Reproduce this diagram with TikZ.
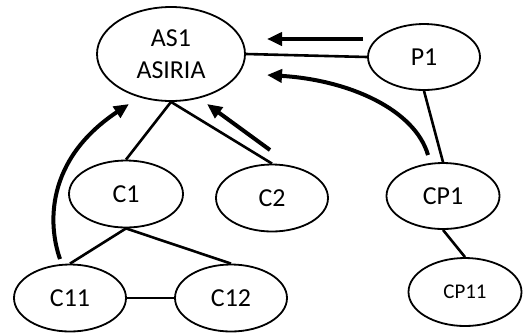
\documentclass[tikz,border=0pt]{standalone}
\usepackage{fontspec}
\setmainfont{Carlito}
\usetikzlibrary{shapes.geometric,arrows.meta}
\begin{document}
\begin{tikzpicture}[x=1bp,y=-1bp,
  ell/.style={draw,ellipse,line width=1.8bp,inner sep=0pt,font=\fontsize{26}{32}\selectfont,align=center},
  link/.style={line width=2.6bp},
  big/.style={line width=4bp,-{Triangle[length=15bp,width=13bp]}}]
\useasboundingbox (0,0) rectangle (529,333);
\node[ell,minimum width=148bp,minimum height=94bp] (as1) at (171,54) {AS1\\ASIRIA};
\node[ell,minimum width=112bp,minimum height=66bp] (p1) at (424,57) {P1};
\node[ell,minimum width=114bp,minimum height=67bp] (c1) at (126,194) {C1};
\node[ell,minimum width=112bp,minimum height=67bp] (c2) at (272,198) {C2};
\node[ell,minimum width=113bp,minimum height=66bp] (cp1) at (443,196) {CP1};
\node[ell,minimum width=112bp,minimum height=67bp] (c11) at (70,298) {C11};
\node[ell,minimum width=112bp,minimum height=67bp] (c12) at (231,298) {C12};
\node[ell,minimum width=113bp,minimum height=68bp,font=\fontsize{21}{25}\selectfont] (cp11) at (465,292) {CP11};
\draw[link] (as1.east) -- (p1.west);
\draw[link] (as1.south) -- (c1.north);
\draw[link] (as1.south) -- (c2.north);
\draw[link] (p1.south) -- (cp1.north);
\draw[link] (cp1.south) -- (cp11.north);
\draw[link] (c1.south) -- (c11.north);
\draw[link] (c1.south) -- (c12.north);
\draw[link] (c11.east) -- (c12.west);
\coordinate (a1s) at (363,39);
\coordinate (a1e) at (267,39);
\coordinate (a2s) at (270,150);
\coordinate (a2e) at (207,104);
\coordinate (a3s) at (60,259);
\coordinate (a3e) at (129,104);
\coordinate (a4s) at (428,155);
\coordinate (a4e) at (267,75);
\draw[big] (a1s) -- (a1e);
\draw[big] (a2s) -- (a2e);
\draw[big] (a3s) .. controls (48,225) and (45,160) .. (a3e);
\draw[big] (a4s) .. controls (415,110) and (350,80) .. (a4e);
\end{tikzpicture}
\end{document}
